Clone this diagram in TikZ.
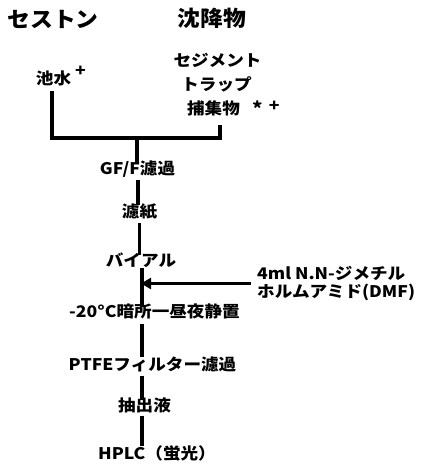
\documentclass[tikz,border=0pt]{standalone}
\usepackage{fontspec}
\newfontfamily\jp[FakeStretch=1.1]{Noto Sans CJK JP}
\newfontfamily\jphead[FakeStretch=1.06]{Noto Sans CJK JP}
\usetikzlibrary{arrows.meta}
\tikzset{
  lbl/.style={font=\jp\bfseries\fontsize{16}{19}\selectfont, inner xsep=0pt, inner ysep=0pt, text height=0.8em, text depth=0.1em},
  head/.style={font=\jphead\bfseries\fontsize{21.5}{24}\selectfont, inner sep=0pt, text height=0.8em, text depth=0.1em},
  supmark/.style={font=\jp\bfseries\fontsize{16}{16}\selectfont, inner sep=0pt},
  multi/.style={font=\jp\bfseries\fontsize{16}{18}\selectfont, inner sep=0pt, align=left},
  flow/.style={line width=3.2pt, line cap=butt, line join=miter},
}
\begin{document}
\begin{tikzpicture}[x=1pt,y=-1pt]
\useasboundingbox[fill=white] (0,0) rectangle (424,465);
% headers
\node[head] (sest) at (53,24) {セストン};
\node[head] (chinko) at (212,23) {沈降物};
% sources
\node[lbl] (ike) at (53.5,81.5) {池水};
\node[supmark] (plus1) at (80.5,71) {+};
\node[lbl] (sed1) at (217.5,63.5) {セジメント};
\node[lbl] (sed2) at (216.5,87.5) {トラップ};
\node[lbl] (sed3) at (213.5,111) {捕集物};
\node[supmark] (marks) at (266,108) {\raisebox{-0.4ex}{\fontsize{18}{18}\selectfont *}\hspace{6pt}+};
% process steps
\node[lbl] (gff) at (137.5,171.5) {GF/F濾過};
\node[lbl] (roshi) at (139.5,213.5) {濾紙};
\node[lbl] (vial) at (141,262.5) {バイアル};
\node[lbl] (m20) at (154.5,314) {-20°C暗所一昼夜静置};
\node[lbl] (ptfe) at (152.5,367) {PTFEフィルター濾過};
\node[lbl] (ext) at (144.5,408) {抽出液};
\node[lbl] (hplc) at (157,456) {HPLC（蛍光）};
\node[multi, anchor=west] (dmf) at (257,283.5) {4ml N.N-ジメチル\\ホルムアミド(DMF)};
% junction
\coordinate (jl) at (52,138);
\coordinate (jr) at (220,138);
\coordinate (jm) at (137,138);
\coordinate (vx) at (142,0);
\draw[flow, shorten <=5pt, shorten >=9pt] (ike.south -| jl) -- (jl) -- (jr) -- (sed3.south -| jr);
\draw[flow, shorten >=3pt] (jm) -- (gff.north -| jm);
\draw[flow, shorten <=4pt, shorten >=4pt] (gff.south -| 138,0) -- (roshi.north -| 138,0);
\draw[flow, shorten <=5pt, shorten >=3pt] (roshi.south -| 139.5,0) -- (vial.north -| 139.5,0);
\draw[flow, shorten <=1pt, shorten >=2pt] (vial.south -| vx) -- (m20.north -| vx);
\draw[flow, shorten <=5pt, shorten >=5pt] (m20.south -| vx) -- (ptfe.north -| vx);
\draw[flow, shorten <=4pt, shorten >=3pt] (ptfe.south -| vx) -- (ext.north -| vx);
\draw[flow, shorten <=3pt, shorten >=5pt] (ext.south -| vx) -- (hplc.north -| vx);
\draw[flow, -{Triangle[length=10pt,width=11pt]}, shorten <=6pt, shorten >=-1pt] (dmf.west) -- (dmf.west -| vx);
\end{tikzpicture}
\end{document}
